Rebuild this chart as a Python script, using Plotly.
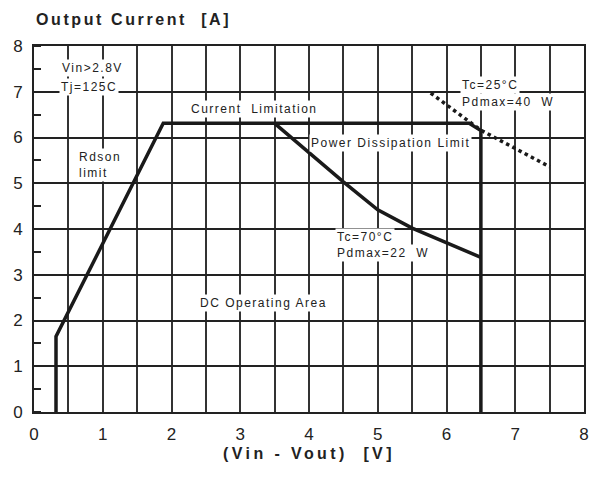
import plotly.graph_objects as go

# Data
rdson_x = [0.32, 0.32, 1.88, 6.33, 6.5, 6.5]
rdson_y = [0.0, 1.65, 6.31, 6.31, 6.15, 0.0]

pd22_x = [3.5, 4.5, 5.0, 5.5, 6.5]
pd22_y = [6.31, 5.03, 4.42, 4.02, 3.38]

pd40_x = [5.77, 6.33, 6.5, 7.5]
pd40_y = [6.97, 6.35, 6.16, 5.36]

x_ticks = [0, 1, 2, 3, 4, 5, 6, 7, 8]
y_ticks = [0, 1, 2, 3, 4, 5, 6, 7, 8]

labels = [
    # text, x, y, xanchor
    ("Vin&gt;2.8V", 0.85, 7.52, "center"),
    ("Tj=125C", 0.8, 7.1, "center"),
    ("Current  Limitation", 3.2, 6.62, "center"),
    ("Rdson<br>limit", 0.96, 5.39, "center"),
    ("Power Dissipation Limit", 5.19, 5.89, "center"),
    ("Tc=25°C", 6.2, 7.15, "left"),
    ("Pdmax=40  W", 6.2, 6.78, "left"),
    ("Tc=70°C", 4.38, 3.83, "left"),
    ("Pdmax=22  W", 4.38, 3.47, "left"),
    ("DC Operating Area", 3.34, 2.38, "center"),
]

def spaced(t, px):
    return '<span style="letter-spacing:%spx">%s</span>' % (px, t)

fig = go.Figure()
fig.add_trace(go.Scatter(x=rdson_x, y=rdson_y, mode="lines",
                         line=dict(color="#1a1a1a", width=3.5), showlegend=False))
fig.add_trace(go.Scatter(x=pd22_x, y=pd22_y, mode="lines",
                         line=dict(color="#1a1a1a", width=3.5), showlegend=False))
fig.add_trace(go.Scatter(x=pd40_x, y=pd40_y, mode="lines",
                         line=dict(color="#1a1a1a", width=3.5, dash="dot"), showlegend=False))

for t, x, y, xa in labels:
    fig.add_annotation(x=x, y=y, text=spaced(t, 1.5), showarrow=False, xanchor=xa,
                       font=dict(family="Liberation Sans", size=12, color="#222"),
                       bgcolor="white", borderpad=1, align="left")

fig.add_annotation(xref="paper", yref="paper", x=0.0, y=1.0, yshift=16,
                   xanchor="left", yanchor="bottom", showarrow=False,
                   text="<b>" + spaced("Output Current  [A]", 2.6) + "</b>",
                   font=dict(family="Liberation Sans", size=16, color="#222"))

# page body has an 8px margin, so the figure is sized to fit the 601x478 window
fig.update_layout(
    width=593, height=470,
    margin=dict(l=26, r=17, t=38, b=66),
    plot_bgcolor="white", paper_bgcolor="white",
    font=dict(family="Liberation Sans", size=17, color="#222"),
    xaxis=dict(range=[0, 8], tickvals=x_ticks, ticktext=[str(v) for v in x_ticks],
               automargin=False,
               showgrid=True, gridcolor="#333", gridwidth=1.5,
               minor=dict(dtick=0.5, showgrid=True, gridcolor="#333", gridwidth=1.5),
               showline=True, linecolor="#222", linewidth=2, mirror=True,
               ticks="", zeroline=False, ticklabelstandoff=6,
               title=dict(text="<b>" + spaced("(Vin - Vout)  [V]", 3.4) + "</b>",
                          font=dict(family="Liberation Sans", size=16, color="#222"),
                          standoff=4)),
    yaxis=dict(range=[0, 8], tickvals=y_ticks, ticktext=[str(v) for v in y_ticks],
               automargin=False,
               showgrid=True, gridcolor="#222", gridwidth=2,
               minor=dict(dtick=0.5, ticks="inside", ticklen=7, tickcolor="#222",
                          tickwidth=1.5, showgrid=False),
               showline=True, linecolor="#222", linewidth=2, mirror=True,
               ticks="", zeroline=False, ticklabelstandoff=6),
)

fig.write_html("out.html")
